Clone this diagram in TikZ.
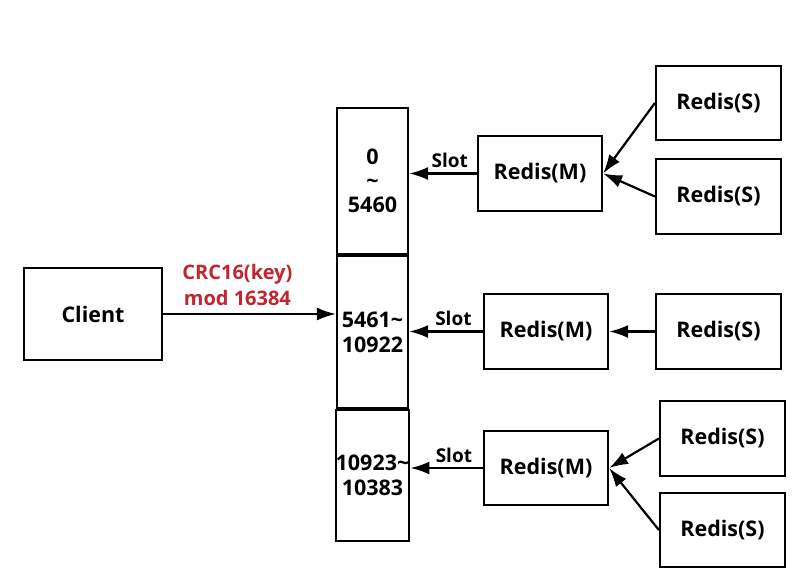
\documentclass[tikz,border=0pt]{standalone}
\usepackage{fontspec}
\setmainfont{Open Sans}
\usetikzlibrary{calc}
\usetikzlibrary{arrows.meta}
\definecolor{crcred}{RGB}{192,38,48}

\begin{document}
\begin{tikzpicture}[
	x=1pt, y=-1pt,
	>={Latex[length=19pt,width=13pt]},
	box/.style={draw, line width=2.2pt, inner sep=0pt, font=\fontsize{21.5}{25}\selectfont\bfseries},
	slotcell/.style={box, minimum width=71pt, align=center},
	conn/.style={line width=2.2pt, ->}]

	\useasboundingbox (0,0) rectangle (810,579);

	% client
	\node [box, minimum width=138pt, minimum height=92pt] (client) at (93,314) {Client};

	% slot column
	\node [slotcell, minimum height=146pt] (cellA) at (372.5,181) {0\\[-1pt]\textasciitilde\\[-1pt]5460};
	\node [slotcell, minimum height=152pt] (cellB) at (372.5,332) {5461\textasciitilde\\10922};
	\node [slotcell, minimum height=131pt] (cellC) at (372.5,475.5) {10923\textasciitilde\\10383};

	% masters
	\node [box, minimum width=124pt, minimum height=75pt] (masterA) at (540,173.5) {Redis(M)};
	\node [box, minimum width=124pt, minimum height=75pt] (masterB) at (546,331.5) {Redis(M)};
	\node [box, minimum width=124pt, minimum height=74pt] (masterC) at (546,468) {Redis(M)};

	% slaves
	\node [box, minimum width=125pt, minimum height=74pt] (slaveA1) at (718.5,103) {Redis(S)};
	\node [box, minimum width=125pt, minimum height=75pt] (slaveA2) at (718.5,196.5) {Redis(S)};
	\node [box, minimum width=125pt, minimum height=75pt] (slaveB) at (718.5,331.5) {Redis(S)};
	\node [box, minimum width=125pt, minimum height=75pt] (slaveC1) at (722.5,438.5) {Redis(S)};
	\node [box, minimum width=125pt, minimum height=74pt] (slaveC2) at (722.5,530) {Redis(S)};

	\draw [conn] (client.east) -- (client.east -| cellB.west)
		node [pos=0.43, above=4pt, align=center, text=crcred, font=\fontsize{20}{26}\selectfont\bfseries] {CRC16(key)\\mod 16384};

	\foreach \m/\c in {masterA/cellA, masterB/cellB, masterC/cellC}
		\draw [conn] (\m.west) -- (\m.west -| \c.east)
			node [pos=0.4, above=1pt, font=\fontsize{19}{22}\selectfont\bfseries] {Slot};

	\foreach \s/\m in {slaveA1/masterA, slaveA2/masterA, slaveB/masterB, slaveC1/masterC, slaveC2/masterC}
		\draw [conn] (\s.west) -- (\m.east);

\end{tikzpicture}
\end{document}
